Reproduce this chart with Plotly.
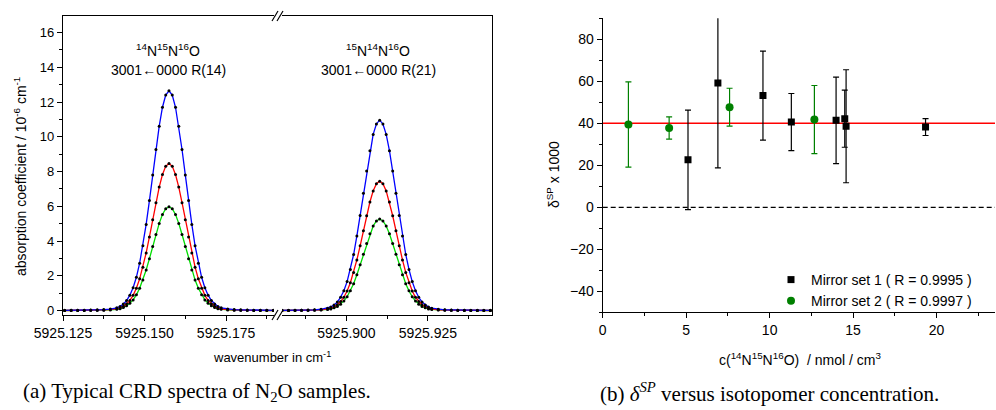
import plotly.graph_objects as go

W, H = 996, 410

# ---------------- Panel (a): CRD spectra ----------------
wn_left = [5925.1255, 5925.1275, 5925.1295, 5925.1315, 5925.1335, 5925.1355, 5925.1375, 5925.1395,
           5925.1415, 5925.1425, 5925.1435, 5925.1445, 5925.1455, 5925.1465, 5925.1475, 5925.1485,
           5925.1495, 5925.1505, 5925.1515, 5925.1525, 5925.1535, 5925.1545, 5925.1555, 5925.1565,
           5925.1575,
           5925.1585, 5925.1595, 5925.1605, 5925.1615, 5925.1625, 5925.1635, 5925.1645, 5925.1655,
           5925.1665, 5925.1675, 5925.1685, 5925.1695, 5925.1705, 5925.1715, 5925.1725, 5925.1735,
           5925.1755, 5925.1775, 5925.1795, 5925.1815, 5925.1835, 5925.1855, 5925.1875, 5925.1895]

abs_left_blue = [0.02, 0.02, 0.03, 0.03, 0.04, 0.05, 0.06, 0.09,
                 0.16, 0.24, 0.38, 0.58, 0.89, 1.32, 1.92, 2.73, 3.73, 4.96, 6.33, 7.81, 9.27, 10.61, 11.70, 12.40,
                 12.65,
                 12.40, 11.70, 10.61, 9.27, 7.81, 6.33, 4.96, 3.73, 2.73, 1.92, 1.32, 0.89, 0.58, 0.38, 0.24, 0.16,
                 0.09, 0.06, 0.05, 0.04, 0.03, 0.03, 0.02, 0.02]
abs_left_red = [0.01, 0.02, 0.02, 0.02, 0.03, 0.03, 0.04, 0.06,
                0.11, 0.16, 0.25, 0.39, 0.59, 0.88, 1.29, 1.83, 2.50, 3.32, 4.24, 5.23, 6.21, 7.11, 7.83, 8.30,
                8.47,
                8.30, 7.83, 7.11, 6.21, 5.23, 4.24, 3.32, 2.50, 1.83, 1.29, 0.88, 0.59, 0.39, 0.25, 0.16, 0.11,
                0.06, 0.04, 0.03, 0.03, 0.02, 0.02, 0.02, 0.01]
abs_left_green = [0.01, 0.01, 0.01, 0.01, 0.02, 0.02, 0.03, 0.04,
                  0.08, 0.11, 0.18, 0.28, 0.42, 0.62, 0.91, 1.29, 1.76, 2.34, 2.99, 3.69, 4.38, 5.02, 5.53, 5.86,
                  5.98,
                  5.86, 5.53, 5.02, 4.38, 3.69, 2.99, 2.34, 1.76, 1.29, 0.91, 0.62, 0.42, 0.28, 0.18, 0.11, 0.08,
                  0.04, 0.03, 0.02, 0.02, 0.01, 0.01, 0.01, 0.01]

wn_right = [5925.8802, 5925.8822, 5925.8842, 5925.8862, 5925.8882, 5925.8902, 5925.8922,
            5925.8942, 5925.8952, 5925.8962, 5925.8972, 5925.8982, 5925.8992, 5925.9002, 5925.9012,
            5925.9022, 5925.9032, 5925.9042, 5925.9052, 5925.9062, 5925.9072, 5925.9082, 5925.9092,
            5925.9102,
            5925.9112, 5925.9122, 5925.9132, 5925.9142, 5925.9152, 5925.9162, 5925.9172, 5925.9182,
            5925.9192, 5925.9202, 5925.9212, 5925.9222, 5925.9232, 5925.9242, 5925.9252, 5925.9262,
            5925.9282, 5925.9302, 5925.9322, 5925.9342, 5925.9362, 5925.9382, 5925.9402, 5925.9422, 5925.9442]

abs_right_blue = [0.02, 0.02, 0.03, 0.03, 0.04, 0.05, 0.08,
                  0.14, 0.21, 0.33, 0.50, 0.77, 1.14, 1.67, 2.37, 3.23, 4.30, 5.48, 6.76, 8.03, 9.20, 10.14, 10.74,
                  10.96,
                  10.74, 10.14, 9.20, 8.03, 6.76, 5.48, 4.30, 3.23, 2.37, 1.67, 1.14, 0.77, 0.50, 0.33, 0.21, 0.14,
                  0.08, 0.05, 0.04, 0.03, 0.03, 0.02, 0.02, 0.02, 0.02]
abs_right_red = [0.01, 0.01, 0.02, 0.02, 0.03, 0.04, 0.05,
                 0.10, 0.14, 0.22, 0.34, 0.52, 0.77, 1.13, 1.61, 2.20, 2.92, 3.73, 4.60, 5.46, 6.25, 6.89, 7.30,
                 7.45,
                 7.30, 6.89, 6.25, 5.46, 4.60, 3.73, 2.92, 2.20, 1.61, 1.13, 0.77, 0.52, 0.34, 0.22, 0.14, 0.10,
                 0.05, 0.04, 0.03, 0.02, 0.02, 0.01, 0.01, 0.01, 0.01]
abs_right_green = [0.01, 0.01, 0.01, 0.02, 0.02, 0.03, 0.04,
                   0.07, 0.10, 0.16, 0.24, 0.37, 0.55, 0.80, 1.14, 1.55, 2.07, 2.64, 3.25, 3.86, 4.42, 4.87, 5.16,
                   5.27,
                   5.16, 4.87, 4.42, 3.86, 3.25, 2.64, 2.07, 1.55, 1.14, 0.80, 0.55, 0.37, 0.24, 0.16, 0.10, 0.07,
                   0.04, 0.03, 0.02, 0.02, 0.01, 0.01, 0.01, 0.01, 0.01]

left_ticks = [5925.125, 5925.150, 5925.175]
left_minor = [5925.1375, 5925.1625, 5925.1875]
right_ticks = [5925.900, 5925.925]
right_minor = [5925.8875, 5925.9125, 5925.9375]
abs_ticks = [0, 2, 4, 6, 8, 10, 12, 14, 16]
abs_minor = [1, 3, 5, 7, 9, 11, 13, 15]

# ---------------- Panel (b): delta SP ----------------
set1_conc = [5.11, 6.90, 9.60, 11.30, 13.98, 14.50, 14.58, 19.34]
set1_delta = [22.6, 59.2, 53.2, 40.6, 41.4, 42.2, 38.6, 38.2]
set1_err = [23.7, 40.4, 21.2, 13.6, 20.6, 13.6, 26.9, 4.0]
set2_conc = [1.54, 3.98, 7.60, 12.68]
set2_delta = [39.4, 37.8, 47.7, 41.8]
set2_err = [20.3, 5.3, 9.0, 16.2]
mean_delta = 40
zero_level = 0
conc_ticks = [0, 5, 10, 15, 20]
conc_minor = [2.5, 7.5, 12.5, 17.5, 22.5]
delta_ticks = [-40, -20, 0, 20, 40, 60, 80]
delta_minor = [-50, -30, -10, 10, 30, 50, 70, 90]

FONT = "Arial, Liberation Sans, sans-serif"
BLUE, RED, GREEN = "#0000ff", "#ff0000", "#00dd00"
DGREEN = "#008000"

def px(x):
    return x / W

def py(y):
    return 1 - y / H

fig = go.Figure()

for xs, ys, col, xa, ya in [
    (wn_left, abs_left_green, GREEN, "x", "y"),
    (wn_left, abs_left_red, RED, "x", "y"),
    (wn_left, abs_left_blue, BLUE, "x", "y"),
    (wn_right, abs_right_green, GREEN, "x2", "y2"),
    (wn_right, abs_right_red, RED, "x2", "y2"),
    (wn_right, abs_right_blue, BLUE, "x2", "y2"),
]:
    fig.add_trace(go.Scatter(x=xs, y=ys, mode="lines+markers", xaxis=xa, yaxis=ya,
                             line=dict(color=col, width=1.3),
                             marker=dict(color="black", size=3),
                             showlegend=False, hoverinfo="skip"))

fig.add_trace(go.Scatter(x=set1_conc, y=set1_delta, mode="markers", xaxis="x3", yaxis="y3",
                         name="Mirror set 1 ( R = 0.9995 )",
                         marker=dict(symbol="square", color="black", size=7),
                         error_y=dict(type="data", array=set1_err, color="black",
                                      thickness=1.2, width=3)))
fig.add_trace(go.Scatter(x=set2_conc, y=set2_delta, mode="markers", xaxis="x3", yaxis="y3",
                         name="Mirror set 2 ( R = 0.9997 )",
                         marker=dict(symbol="circle", color=DGREEN, size=8),
                         error_y=dict(type="data", array=set2_err, color=DGREEN,
                                      thickness=1.2, width=3)))

fig.add_shape(type="line", xref="x3 domain", yref="y3", x0=0, x1=1, y0=mean_delta, y1=mean_delta,
              line=dict(color=RED, width=1.5), layer="below")
fig.add_shape(type="line", xref="x3 domain", yref="y3", x0=0, x1=1, y0=zero_level, y1=zero_level,
              line=dict(color="black", width=1.2, dash="5px,3px"), layer="below")

axis_common = dict(showline=True, linecolor="black", linewidth=1.3, showgrid=False, zeroline=False,
                   automargin=False,
                   tickcolor="black", tickwidth=1.2, tickfont=dict(size=14, family=FONT, color="black"))

ya_dom = [py(315), py(16)]
fig.update_layout(
    template="none",
    width=W, height=H, margin=dict(l=0, r=0, t=0, b=0, pad=0, autoexpand=False),
    paper_bgcolor="white", plot_bgcolor="white",
    font=dict(family=FONT, color="black"),
    xaxis=dict(domain=[px(63), px(274)], range=[5925.125, 5925.1897], anchor="y", mirror=True,
               ticks="outside", ticklen=5, tickvals=left_ticks,
               ticktext=["%.3f" % v for v in left_ticks],
               minor=dict(tickvals=left_minor, ticks="outside", ticklen=3, tickcolor="black"),
               **axis_common),
    xaxis2=dict(domain=[px(282), px(492)], range=[5925.8802, 5925.9447], anchor="y2", mirror=True,
                ticks="outside", ticklen=5, tickvals=right_ticks,
                ticktext=["%.3f" % v for v in right_ticks],
                minor=dict(tickvals=right_minor, ticks="outside", ticklen=3, tickcolor="black"),
                **axis_common),
    yaxis=dict(domain=ya_dom, range=[-0.25, 16.95], anchor="x", ticks="outside", ticklen=5,
               tickvals=abs_ticks,
               minor=dict(tickvals=abs_minor, ticks="outside", ticklen=3, tickcolor="black"),
               **{**axis_common, "tickfont": dict(size=13, family=FONT, color="black")}),
    yaxis2=dict(domain=ya_dom, range=[-0.25, 16.95], anchor="x2", side="right", ticks="",
                showticklabels=False, **axis_common),
    xaxis3=dict(domain=[px(602.7), px(995)], range=[0, 23.5], anchor="y3", ticks="outside", ticklen=5,
                tickvals=conc_ticks,
                minor=dict(tickvals=conc_minor, ticks="outside", ticklen=3, tickcolor="black"),
                **axis_common),
    xaxis4=dict(overlaying="x3", side="top", anchor="y3", range=[0, 23.5], ticks="inside", ticklen=5,
                tickvals=conc_ticks, showticklabels=False,
                minor=dict(tickvals=conc_minor, ticks="inside", ticklen=3, tickcolor="black"),
                **axis_common),
    yaxis3=dict(domain=[py(312.3), py(18.3)], range=[-50, 90], anchor="x3", ticks="outside", ticklen=5,
                tickvals=delta_ticks,
                minor=dict(tickvals=delta_minor, ticks="outside", ticklen=3, tickcolor="black"),
                **axis_common),
    yaxis4=dict(overlaying="y3", side="right", anchor="x3", range=[-50, 90], ticks="inside", ticklen=5,
                tickvals=delta_ticks, showticklabels=False,
                minor=dict(tickvals=delta_minor, ticks="inside", ticklen=3, tickcolor="black"),
                **axis_common),
    legend=dict(x=px(771), y=py(290.5), xanchor="left", yanchor="middle", bgcolor="rgba(0,0,0,0)",
                borderwidth=0,
                font=dict(size=14, family=FONT, color="black"), tracegroupgap=0, itemwidth=30),
)

# axis break marks
for yb in (16, 315):
    for dx in (0, 5):
        fig.add_shape(type="line", xref="paper", yref="paper",
                      x0=px(272 + dx), y0=py(yb + 5), x1=px(278 + dx), y1=py(yb - 5),
                      line=dict(color="black", width=1.2))

ann = []
# peak labels
ann.append(dict(x=5925.1572, y=15.0, xref="x", yref="y",
                text="<sup>14</sup>N<sup>15</sup>N<sup>16</sup>O", font=dict(size=14)))
ann.append(dict(x=5925.1572, y=13.85, xref="x", yref="y",
                text="3001\u21900000 R(14)", font=dict(size=14)))
ann.append(dict(x=5925.9097, y=15.0, xref="x2", yref="y2",
                text="<sup>15</sup>N<sup>14</sup>N<sup>16</sup>O", font=dict(size=14)))
ann.append(dict(x=5925.9097, y=13.85, xref="x2", yref="y2",
                text="3001\u21900000 R(21)", font=dict(size=14)))
# axis titles
ann.append(dict(x=px(20), y=py(177), xref="paper", yref="paper", textangle=-90,
                text="absorption coefficient / 10<sup>-6</sup> cm<sup>-1</sup>", font=dict(size=14)))
ann.append(dict(x=px(272), y=py(357), xref="paper", yref="paper",
                text="wavenumber in cm<sup>-1</sup>", font=dict(size=13)))
ann.append(dict(x=px(553), y=py(175), xref="paper", yref="paper", textangle=-90,
                text="\u03b4<sup>SP</sup> x 1000", font=dict(size=14)))
ann.append(dict(x=px(800), y=py(359), xref="paper", yref="paper",
                text="c(<sup>14</sup>N<sup>15</sup>N<sup>16</sup>O) &nbsp;/ nmol / cm<sup>3</sup>",
                font=dict(size=14)))
# captions
ann.append(dict(x=px(197), y=py(392), xref="paper", yref="paper",
                text="(a) Typical CRD spectra of N<sub>2</sub>O samples.",
                font=dict(size=21, family="Liberation Serif, serif")))
ann.append(dict(x=px(769), y=py(392), xref="paper", yref="paper",
                text="(b) <i>\u03b4<sup>SP</sup></i> versus isotopomer concentration.",
                font=dict(size=21, family="Liberation Serif, serif")))
for a in ann:
    a.setdefault("showarrow", False)
    a["font"] = {"color": "black", "family": FONT, **a["font"]}
    a.setdefault("xanchor", "center")
    a.setdefault("yanchor", "middle")
fig.update_layout(annotations=ann)

fig.write_html("out.html",
               config={"displayModeBar": False},
               post_script="document.body.style.margin='0px';"
                           "document.body.style.overflow='hidden';")
